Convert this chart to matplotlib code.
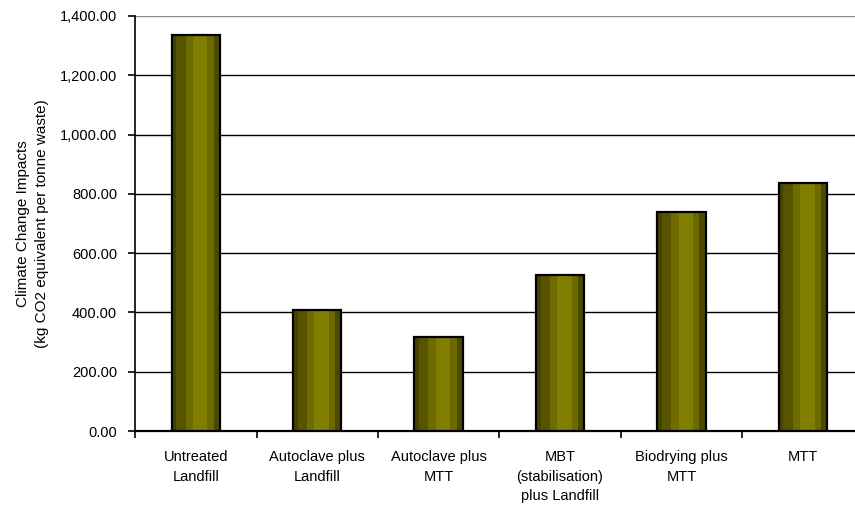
import numpy as np
import matplotlib.pyplot as plt
from matplotlib.ticker import FuncFormatter, MultipleLocator

plt.rcParams['font.family'] = ['Liberation Sans', 'DejaVu Sans']

# scenario names and climate change impacts (kg CO2 eq per tonne waste)
scenarios = ['Untreated\nLandfill', 'Autoclave plus\nLandfill', 'Autoclave plus\nMTT',
             'MBT\n(stabilisation)\nplus Landfill', 'Biodrying plus\nMTT', 'MTT']
impacts = [1335, 407, 318, 528, 739, 835]

# stripes across each bar give the old excel "cylinder" shading
stripe_colors = ['#464300', '#575400', '#6e6c00', '#807e00', '#6b6900', '#4c4a00']
stripe_fracs = [0.10, 0.19, 0.15, 0.30, 0.13, 0.13]

fig = plt.figure(figsize=(8.55, 5.15), dpi=100)
ax = fig.add_axes([0.158, 0.163, 0.852, 0.806])

x = np.arange(len(scenarios))
bar_w = 0.4

left = x - bar_w / 2
for c, f in zip(stripe_colors, stripe_fracs):
    ax.bar(left, impacts, width=bar_w * f, align='edge', color=c, linewidth=0, zorder=3)
    left = left + bar_w * f
ax.bar(x, impacts, width=bar_w, fill=False, edgecolor='black', linewidth=1.6, zorder=4)

ax.set_xlim(-0.5, len(scenarios) - 0.5)
ax.set_ylim(0, 1400)
ax.set_yticks(np.arange(0, 1401, 200))
ax.yaxis.set_major_formatter(FuncFormatter(lambda v, p: f'{v:,.2f}'))
ax.grid(axis='y', color='black', linewidth=1.0, zorder=0)
ax.set_axisbelow(True)
# top line is drawn lighter in the original
ax.get_ygridlines()[-1].set_color('#8a8a8a')

ax.set_xticks(x)
ax.set_xticklabels(scenarios, fontsize=10.5, linespacing=1.5, va='top')
ax.set_xticks(np.arange(len(scenarios) + 1) - 0.5, minor=True)
ax.tick_params(axis='x', which='major', length=0, pad=14)
ax.tick_params(axis='x', which='minor', length=5, width=1.2, direction='out')
ax.tick_params(axis='y', length=5, width=1.2, direction='out', labelsize=10.5, pad=8)

for s in ['top', 'right']:
    ax.spines[s].set_visible(False)
ax.spines['left'].set_linewidth(1.2)
ax.spines['bottom'].set_linewidth(1.6)

ax.set_ylabel('Climate Change Impacts\n(kg CO2 equivalent per tonne waste)',
              fontsize=11, linespacing=1.45, labelpad=8)

fig.savefig('out.png', dpi=100)
